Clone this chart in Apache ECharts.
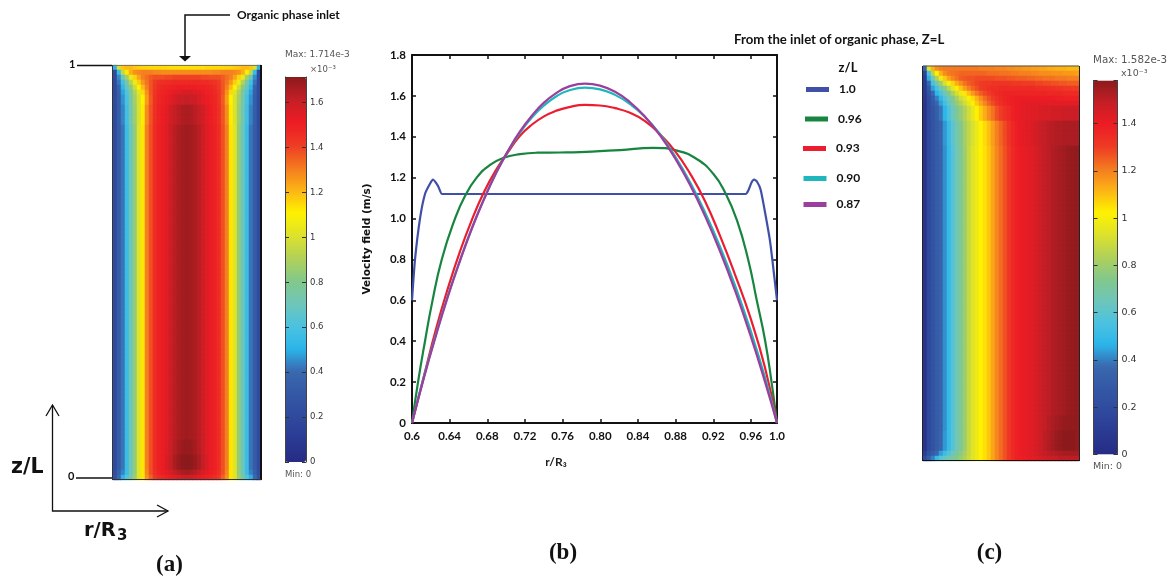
<!DOCTYPE html>
<html>
<head>
<meta charset="utf-8">
<style>html,body{margin:0;padding:0;background:#fff}#c{width:1173px;height:579px}</style>
<script src="https://cdn.jsdelivr.net/npm/echarts@6/dist/echarts.min.js"></script>
</head>
<body>
<div id="c"></div>
<script>
// ---------- panel (b): velocity profiles ----------
const rTube1 = [0.6,0.6032,0.6085,0.6138,0.6191,0.6223,0.6276,0.6319,0.64,0.72,0.8,0.88,0.9545,0.9575,0.9605,0.9634,0.9665,0.9704,0.9758,0.9803,0.9827,0.9877];
const vTube1 = [0.6,0.8,1.0,1.12,1.17,1.19,1.16,1.12,1.12,1.12,1.12,1.12,1.12,1.14,1.175,1.19,1.18,1.14,1.01,0.89,0.8,0.6];
const rZ096 = [0.6,0.6064,0.6138,0.6212,0.6316,0.6457,0.6563,0.6687,0.6829,0.6967,0.7147,0.7328,0.7572,0.7785,0.7997,0.821,0.856,0.8815,0.9028,0.9198,0.9325,0.9453,0.9573,0.9662,0.975,0.9821,0.9877];
const vZ096 = [0,0.2,0.4,0.585,0.8,1.0,1.11,1.2,1.263,1.296,1.315,1.322,1.323,1.325,1.33,1.335,1.346,1.332,1.29,1.22,1.128,0.99,0.795,0.6,0.405,0.194,0];
const rShared = [0.6,0.6127,0.6255,0.6382,0.651,0.6637,0.6765,0.6892,0.702,0.7147,0.7275,0.7402,0.753,0.7657,0.7838,0.7997,0.8157,0.8316,0.8475,0.8635,0.8794,0.8954,0.9113,0.9272,0.9432,0.9591,0.975,0.9877];
const vZ093 = [0,0.23,0.46,0.66,0.84,0.995,1.13,1.237,1.325,1.405,1.46,1.5,1.527,1.544,1.556,1.553,1.54,1.517,1.477,1.412,1.33,1.22,1.085,0.915,0.725,0.52,0.27,0];
const vZ090 = [0,0.228,0.435,0.625,0.797,0.955,1.097,1.222,1.33,1.42,1.495,1.553,1.597,1.625,1.64,1.632,1.605,1.56,1.497,1.412,1.305,1.178,1.03,0.862,0.672,0.46,0.222,0];
const vZ087 = [0,0.222,0.428,0.619,0.793,0.952,1.094,1.221,1.331,1.426,1.504,1.567,1.613,1.644,1.66,1.65,1.62,1.569,1.498,1.407,1.295,1.164,1.012,0.84,0.647,0.434,0.201,0];
const seriesNames = ['1.0','0.96','0.93','0.90','0.87'];
const seriesColors = ['#3f50a6','#17843f','#ed1c2e','#1fb7bb','#9b3f9e'];
const xTickMax = 0.9877;   // where the printed "1.0" tick sits on the reference's axis
const yTickLabels = ['0','0.2','0.4','0.6','0.8','1.0','1.2','1.4','1.6','1.8'];

// ---------- shared colour ramp ----------
const rampColors = ['#262c85','#2a3a92','#2f4a9e','#3458a5','#3a68ae','#2bb5ea','#4cc2e0','#6fc6b8','#83c88a','#b2d158','#dde22b','#fff200','#fcb415','#f47a20','#ee3a24','#ed1c24','#c41f26','#8b1a1c'];

// ---------- panel (a): rows read top to bottom, 37 columns ----------
const maxA = 1.714;
const a0 = [.5,1.0,1.18,1.2,1.2,1.18,1.17,1.16,1.16,1.15,1.15,1.15,1.15,1.15,1.14,1.14,1.14,1.14,1.14,1.14,1.14,1.14,1.14,1.15,1.15,1.15,1.15,1.15,1.16,1.16,1.17,1.18,1.2,1.2,1.18,1.0,.5];
const a1 = [.2,.55,.95,1.12,1.22,1.27,1.29,1.3,1.3,1.3,1.29,1.29,1.28,1.28,1.28,1.28,1.28,1.28,1.28,1.28,1.28,1.28,1.28,1.28,1.28,1.29,1.29,1.3,1.3,1.3,1.29,1.27,1.22,1.12,.95,.55,.2];
const a2 = [.2,.45,.7,.88,1.05,1.16,1.24,1.3,1.33,1.36,1.38,1.38,1.38,1.39,1.39,1.4,1.4,1.4,1.4,1.4,1.4,1.4,1.39,1.39,1.38,1.38,1.38,1.36,1.33,1.3,1.24,1.16,1.05,.88,.7,.45,.2];
const a3 = [.2,.42,.58,.76,.92,1.06,1.17,1.26,1.32,1.37,1.41,1.44,1.45,1.46,1.46,1.47,1.47,1.47,1.47,1.47,1.47,1.47,1.46,1.46,1.45,1.44,1.41,1.37,1.32,1.26,1.17,1.06,.92,.76,.58,.42,.2];
const a4 = [.2,.37,.52,.68,.83,.97,1.1,1.2,1.3,1.37,1.42,1.46,1.48,1.49,1.5,1.5,1.51,1.51,1.51,1.51,1.51,1.5,1.5,1.49,1.48,1.46,1.42,1.37,1.3,1.2,1.1,.97,.83,.68,.52,.37,.2];
const a5 = [.2,.35,.48,.63,.77,.91,1.03,1.15,1.27,1.37,1.43,1.47,1.49,1.5,1.52,1.54,1.55,1.56,1.56,1.56,1.55,1.54,1.52,1.5,1.49,1.47,1.43,1.37,1.27,1.15,1.03,.91,.77,.63,.48,.35,.2];
const a6 = [.2,.34,.46,.6,.74,.88,1.0,1.11,1.25,1.36,1.44,1.48,1.5,1.52,1.54,1.57,1.59,1.6,1.61,1.6,1.59,1.57,1.54,1.52,1.5,1.48,1.44,1.36,1.25,1.11,1.0,.88,.74,.6,.46,.34,.2];
const a8 = [.2,.34,.44,.58,.72,.86,1.0,1.12,1.28,1.37,1.45,1.49,1.51,1.54,1.58,1.61,1.63,1.65,1.66,1.65,1.63,1.61,1.58,1.54,1.51,1.49,1.45,1.37,1.28,1.12,1.0,.86,.72,.58,.44,.34,.2];
const aMid = [.2,.33,.42,.56,.7,.84,1.02,1.13,1.3,1.38,1.46,1.5,1.52,1.55,1.59,1.63,1.66,1.67,1.68,1.67,1.66,1.63,1.59,1.55,1.52,1.5,1.46,1.38,1.3,1.13,1.02,.84,.7,.56,.42,.33,.2];
const aS1 = [.2,.33,.42,.56,.7,.84,1.02,1.13,1.3,1.38,1.46,1.5,1.52,1.55,1.6,1.64,1.67,1.69,1.695,1.69,1.67,1.64,1.6,1.55,1.52,1.5,1.46,1.38,1.3,1.13,1.02,.84,.7,.56,.42,.33,.2];
const aSpot = [.2,.33,.42,.56,.7,.84,1.02,1.13,1.3,1.38,1.46,1.5,1.52,1.56,1.61,1.66,1.69,1.71,1.714,1.71,1.69,1.66,1.61,1.56,1.52,1.5,1.46,1.38,1.3,1.13,1.02,.84,.7,.56,.42,.33,.2];
const a80 = [.22,.36,.44,.56,.7,.84,1.02,1.13,1.29,1.38,1.45,1.49,1.51,1.54,1.57,1.61,1.64,1.66,1.67,1.66,1.64,1.61,1.57,1.54,1.51,1.49,1.45,1.38,1.29,1.13,1.02,.84,.7,.56,.44,.36,.22];
const a82 = [.25,.4,.5,.62,.74,.86,1.02,1.13,1.27,1.35,1.42,1.46,1.48,1.5,1.52,1.54,1.56,1.58,1.59,1.58,1.56,1.54,1.52,1.5,1.48,1.46,1.42,1.35,1.27,1.13,1.02,.86,.74,.62,.5,.4,.25];
const rowsA = [[1,a0],[1,a1],[1,a2],[1,a3],[1,a4],[1,a5],[2,a6],[4,a8],[63,aMid],[3,aS1],[3,aSpot],[1,a80],[1,a82]];

// ---------- panel (c): rows read top to bottom, 39 columns ----------
const maxC = 1.582;
const c0 = [.35,.95,1.12,1.18,1.2,1.21,1.21,1.21,1.21,1.21,1.21,1.21,1.21,1.21,1.2,1.2,1.2,1.2,1.19,1.19,1.19,1.18,1.18,1.17,1.17,1.16,1.16,1.15,1.15,1.14,1.14,1.13,1.13,1.12,1.12,1.12,1.11,1.11,1.11];
const c1 = [.15,.55,.85,1.02,1.12,1.18,1.21,1.22,1.23,1.24,1.24,1.24,1.24,1.24,1.24,1.24,1.23,1.23,1.23,1.22,1.22,1.22,1.21,1.21,1.2,1.2,1.2,1.19,1.19,1.18,1.18,1.18,1.17,1.17,1.17,1.16,1.16,1.16,1.15];
const c2 = [.1,.46,.66,.84,.98,1.08,1.14,1.19,1.22,1.25,1.26,1.27,1.27,1.28,1.28,1.28,1.28,1.28,1.27,1.27,1.27,1.26,1.26,1.25,1.25,1.25,1.24,1.24,1.23,1.23,1.22,1.22,1.22,1.21,1.21,1.21,1.2,1.2,1.2];
const c3 = [.1,.36,.54,.68,.8,.92,1.0,1.07,1.13,1.18,1.22,1.25,1.27,1.29,1.3,1.31,1.31,1.32,1.32,1.32,1.32,1.32,1.31,1.31,1.31,1.3,1.3,1.3,1.29,1.29,1.28,1.28,1.27,1.27,1.26,1.26,1.25,1.25,1.25];
const c4 = [.09,.28,.44,.55,.66,.76,.86,.95,1.03,1.09,1.15,1.2,1.24,1.27,1.3,1.31,1.33,1.34,1.34,1.35,1.35,1.35,1.35,1.35,1.35,1.35,1.35,1.35,1.34,1.34,1.34,1.33,1.33,1.32,1.32,1.31,1.31,1.3,1.3];
const c5 = [.08,.23,.36,.47,.55,.65,.74,.83,.91,.98,1.04,1.1,1.16,1.21,1.25,1.28,1.3,1.33,1.35,1.36,1.37,1.37,1.37,1.37,1.37,1.37,1.37,1.37,1.37,1.37,1.37,1.36,1.36,1.36,1.36,1.35,1.35,1.35,1.35];
const c6 = [.07,.2,.3,.4,.48,.58,.66,.74,.82,.9,.95,1.01,1.06,1.12,1.18,1.23,1.27,1.3,1.33,1.35,1.37,1.38,1.39,1.4,1.4,1.4,1.4,1.4,1.4,1.4,1.4,1.4,1.4,1.39,1.39,1.38,1.38,1.38,1.38];
const c7 = [.06,.19,.28,.36,.44,.53,.62,.7,.78,.84,.9,.96,1.03,1.09,1.14,1.19,1.24,1.28,1.31,1.34,1.36,1.38,1.39,1.4,1.41,1.42,1.42,1.42,1.42,1.42,1.42,1.42,1.42,1.42,1.42,1.42,1.42,1.42,1.42];
const c8 = [.06,.18,.25,.32,.39,.47,.56,.64,.72,.78,.84,.9,.96,1.02,1.08,1.13,1.18,1.22,1.27,1.3,1.33,1.35,1.38,1.4,1.41,1.42,1.42,1.43,1.43,1.44,1.45,1.45,1.46,1.46,1.46,1.47,1.47,1.47,1.47];
const c11 = [.06,.18,.24,.3,.35,.43,.51,.6,.67,.74,.81,.87,.92,.97,1.02,1.06,1.1,1.15,1.2,1.24,1.28,1.32,1.36,1.39,1.41,1.42,1.43,1.44,1.46,1.48,1.49,1.5,1.51,1.52,1.52,1.53,1.53,1.53,1.53];
const cMid = [.06,.18,.24,.3,.34,.42,.5,.58,.66,.72,.8,.88,.94,.98,1.02,1.05,1.09,1.14,1.19,1.23,1.27,1.31,1.35,1.38,1.4,1.41,1.42,1.43,1.45,1.47,1.49,1.5,1.52,1.53,1.54,1.55,1.56,1.565,1.57];
const cD1 = [.06,.18,.24,.3,.34,.42,.5,.58,.66,.72,.8,.88,.94,.98,1.02,1.05,1.09,1.14,1.19,1.23,1.27,1.31,1.35,1.38,1.4,1.41,1.42,1.43,1.45,1.47,1.49,1.51,1.53,1.545,1.555,1.565,1.57,1.57,1.57];
const cDark = [.06,.18,.24,.3,.35,.43,.5,.58,.66,.72,.8,.88,.94,.98,1.02,1.05,1.09,1.14,1.19,1.23,1.27,1.31,1.35,1.38,1.4,1.41,1.42,1.43,1.45,1.47,1.5,1.52,1.54,1.56,1.57,1.58,1.58,1.58,1.57];
const cB1 = [.12,.24,.3,.36,.44,.52,.58,.64,.7,.76,.82,.88,.94,.98,1.02,1.05,1.09,1.14,1.19,1.23,1.27,1.31,1.35,1.38,1.4,1.41,1.42,1.43,1.45,1.47,1.49,1.5,1.51,1.52,1.53,1.54,1.54,1.54,1.54];
const cB2 = [.2,.32,.4,.5,.58,.63,.67,.71,.75,.79,.84,.89,.94,.98,1.02,1.05,1.09,1.14,1.19,1.23,1.27,1.31,1.35,1.38,1.39,1.4,1.41,1.42,1.43,1.44,1.46,1.47,1.48,1.49,1.5,1.5,1.5,1.5,1.5];
const rowsC = [[1,c0],[1,c1],[1,c2],[1,c3],[1,c4],[1,c5],[1,c6],[1,c7],[3,c8],[5,c11],[54,cMid],[3,cD1],[4,cDark],[1,cB1],[1,cB2]];

// ---------- colour-bar tick step ----------
const barTickStep = 0.2;

// ---------- build ----------
function cells(rows){
  const out=[]; let y=0;
  rows.forEach(([n,vals])=>{ for(let k=0;k<n;k++){ vals.forEach((v,x)=>out.push([x,y,v])); y++; } });
  return {data:out, nRows:y, nCols:rows[0][1].length};
}
const A=cells(rowsA), C=cells(rowsC);
const seq=n=>Array.from({length:n},(_,i)=>i);
const pairs=(r,v)=>r.map((x,i)=>[x,v[i]]);

const tickFont={fontFamily:'Lato, "Open Sans", sans-serif',fontWeight:'bold',fontSize:11.5,color:'#111'};
const frame={lineStyle:{color:'#111',width:2}};
const barFmt=max=>v=>{ if(Math.abs(v-max)<1e-6) return ''; return String(+v.toFixed(1)); };

const grids=[
 {left:113,top:65,width:148,height:415},
 {left:285,top:77,width:21,height:385},
 {left:412,top:55,width:365,height:368},
 {left:923,top:66,width:156,height:395},
 {left:1093.5,top:80.5,width:24,height:374}
];
function colorBarAxes(gi,max,size){
  return [
   {type:'value',gridIndex:gi,min:0,max:max,interval:barTickStep,position:'left',z:6,splitLine:{show:false},axisLabel:{show:false},
    axisLine:{show:true,onZero:false,lineStyle:{color:'#444',width:1}},axisTick:{show:true,inside:true,length:4,lineStyle:{color:'#333'}}},
   {type:'value',gridIndex:gi,min:0,max:max,interval:barTickStep,position:'right',z:6,splitLine:{show:false},
    axisLine:{show:true,onZero:false,lineStyle:{color:'#444',width:1}},axisTick:{show:true,inside:true,length:4,lineStyle:{color:'#333'}},
    axisLabel:{show:true,margin:4,fontFamily:'"DejaVu Sans"',fontSize:size,color:'#333',formatter:barFmt(max)}}
  ];
}
const hiddenCat=(gi,n)=>({type:'category',gridIndex:gi,data:seq(n),show:false});
const hiddenCatY=(gi,n)=>({type:'category',gridIndex:gi,data:seq(n),show:false,inverse:true});

const xAxes=[
 hiddenCat(0,A.nCols),                                   //0
 {type:'category',gridIndex:1,data:[0],show:false},      //1
 {type:'value',gridIndex:2,min:0.6,max:xTickMax,interval:0.04,position:'bottom',z:3,splitLine:{show:false},
  axisLine:{show:true,onZero:false,...frame},axisTick:{show:true,inside:true,length:4,lineStyle:{color:'#111',width:1.5}},
  axisLabel:{...tickFont,margin:7,showMinLabel:true,showMaxLabel:true,formatter:v=>v>0.98?'1.0':(Math.abs(v-0.6)<1e-6?'0.6':v.toFixed(2))},
  name:'r/R₃',nameLocation:'middle',nameGap:33,nameTextStyle:{fontFamily:'Lato, "DejaVu Sans"',fontWeight:'bold',fontSize:12,color:'#222',padding:[0,77,0,0]}}, //2
 {type:'value',gridIndex:2,min:0.6,max:xTickMax,interval:0.04,position:'top',z:3,splitLine:{show:false},
  axisLine:{show:true,onZero:false,...frame},axisTick:{show:true,inside:true,length:4,lineStyle:{color:'#111',width:1.5}},axisLabel:{show:false}}, //3
 hiddenCat(3,C.nCols),                                   //4
 {type:'category',gridIndex:4,data:[0],show:false}       //5
];
const yAxes=[
 hiddenCatY(0,A.nRows),                                  //0
 ...colorBarAxes(1,maxA,8.5),                            //1,2
 {type:'value',gridIndex:2,min:0,max:1.8,interval:0.2,position:'left',z:3,splitLine:{show:false},
  axisLine:{show:true,onZero:false,...frame},axisTick:{show:true,inside:true,length:4,lineStyle:{color:'#111',width:1.5}},
  axisLabel:{...tickFont,margin:6,formatter:v=>yTickLabels[Math.round(v*5)]},
  name:'Velocity field (m/s)',nameLocation:'middle',nameRotate:90,nameGap:33,
  nameTextStyle:{fontFamily:'"DejaVu Sans"',fontWeight:'bold',fontSize:10.5,color:'#111',padding:[0,0,6,0]}}, //3
 {type:'value',gridIndex:2,min:0,max:1.8,interval:0.2,position:'right',z:3,splitLine:{show:false},
  axisLine:{show:true,onZero:false,...frame},axisTick:{show:true,inside:true,length:4,lineStyle:{color:'#111',width:1.5}},axisLabel:{show:false}}, //4
 hiddenCatY(3,C.nRows),                                  //5
 ...colorBarAxes(4,maxC,9.5)                             //6,7
];

const heat=(data,xi,yi)=>({type:'heatmap',xAxisIndex:xi,yAxisIndex:yi,data:data,progressive:0,silent:true,itemStyle:{borderWidth:0},emphasis:{disabled:true}});
const curveData=[[rTube1,vTube1],[rZ096,vZ096],[rShared,vZ093],[rShared,vZ090],[rShared,vZ087]];
const curves=curveData.map(([r,v],i)=>({
  type:'line',name:seriesNames[i],xAxisIndex:2,yAxisIndex:3,data:pairs(r,v),showSymbol:false,symbol:'none',
  smooth:i===0?0.2:0.5,z:3+i,clip:false,
  itemStyle:{color:seriesColors[i]},lineStyle:{color:seriesColors[i],width:2.2}
}));

// legend rows: each one placed on its own line like the reference
const legendTops=[83.5,113,142.5,172.5,198.5];
const legendLefts=[806,805,803,803.5,803.5];
const legends=seriesNames.map((n,i)=>({
  data:[n],left:legendLefts[i],top:legendTops[i],orient:'horizontal',padding:0,icon:'rect',itemWidth:23,itemHeight:5,selectedMode:false,
  textStyle:{fontFamily:'Lato, "Open Sans"',fontWeight:'bold',fontSize:12,color:'#111',padding:[0,0,0,5]}
}));

// ---------- annotations ----------
const T=(text,x,y,font,fill,align)=>({type:'text',z:20,silent:true,x:x,y:y,style:{text:text,font:font,fill:fill||'#111',textAlign:align||'left',textVerticalAlign:'middle'}});
const L=(pts,w,c)=>({type:'polyline',z:20,silent:true,shape:{points:pts},style:{stroke:c||'#111',lineWidth:w||1,fill:'none'}});
const gLabel='"DejaVu Sans"';
const graphics=[
 // panel (a) frame and annotation
 L([[112,65.5],[261,65.5]],1,'#777'), L([[112.5,65],[112.5,480]],1,'#333'), L([[261,65],[261,480]],2,'#111'), L([[112,479.5],[261,479.5]],1,'#333'),
 L([[77,65.5],[112,65.5]],1.3), L([[76,478],[112,478]],1.3),
 T('1',69,64.5,'bold 11px Lato'), T('0',68,476.5,'bold 11px Lato'),
 L([[230,15],[185,15],[185,57]],1.5),
 {type:'polygon',z:20,silent:true,shape:{points:[[179,56],[191,56],[185,61.5]]},style:{fill:'#111'}},
 T('Organic phase inlet',237,15,'bold 12px "Liberation Sans Narrow", Lato'),
 T('Max: 1.714e-3',285,55,'9px '+gLabel,'#555'), T('×10⁻³',310,70,'8.5px '+gLabel,'#555'), T('Min: 0',285,475,'8.5px '+gLabel,'#555'),
 L([[52.5,405.5],[52.5,511],[168,511]],1.3),
 L([[46,416],[52.5,405],[59,416]],1.3), L([[157,505],[168,511],[157,517]],1.3),
 T('z/L',11,468,'bold 20.5px '+gLabel), T('r/R',84,531,'bold 19.5px '+gLabel), T('3',117,536,'bold 15px '+gLabel),
 T('(a)',169.5,565,'bold 23px "Liberation Serif"','#111','center'),
 // panel (b)
 T('From the inlet of organic phase, Z=L',734,40,'bold 13.2px Lato'),
 T('z/L',848,68,'bold 13px Lato','#111','center'),
 T('(b)',563,553,'bold 23px "Liberation Serif"','#111','center'),
 // panel (c) frame and annotation
 L([[923,66],[1079,66]],1,'#555'), L([[922.5,66],[922.5,461]],1,'#222'), L([[1079.5,66],[1079.5,461]],1,'#222'), L([[922.5,460.5],[1079.5,460.5]],1,'#111'),
 T('Max: 1.582e-3',1093,60,'10.3px '+gLabel,'#555'), T('x10⁻³',1121,74,'9.5px '+gLabel,'#555'), T('Min: 0',1093,467,'9.5px '+gLabel,'#555'),
 T('(c)',989.5,553,'bold 23px "Liberation Serif"','#111','center')
];

const chart=echarts.init(document.getElementById('c'),null,{renderer:'canvas'});
chart.setOption({
  animation:false,
  backgroundColor:'#fff',
  grid:grids,
  xAxis:xAxes,
  yAxis:yAxes,
  legend:legends,
  visualMap:[
   {type:'continuous',seriesIndex:0,min:0,max:maxA,left:285,top:77,itemWidth:21,itemHeight:385,padding:0,calculable:false,hoverLink:false,text:null,showLabel:false,z:1,inRange:{color:rampColors}},
   {type:'continuous',seriesIndex:1,min:0,max:maxC,left:1093.5,top:80.5,itemWidth:24,itemHeight:374,padding:0,calculable:false,hoverLink:false,text:null,showLabel:false,z:1,inRange:{color:rampColors}}
  ],
  series:[heat(A.data,0,0),heat(C.data,4,5),...curves],
  graphic:{elements:graphics}
});
</script>
</body>
</html>
